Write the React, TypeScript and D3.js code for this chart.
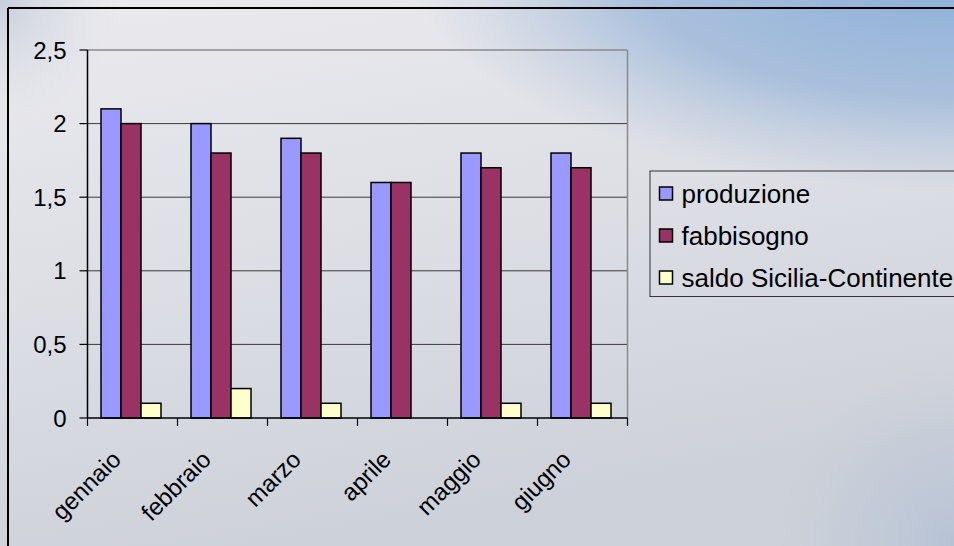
import React from "react";
import * as d3 from "d3";

const categories = ["gennaio", "febbraio", "marzo", "aprile", "maggio", "giugno"];
const seriesNames = ["produzione", "fabbisogno", "saldo Sicilia-Continente"];
const produzione = [2.1, 2.0, 1.9, 1.6, 1.8, 1.8];
const fabbisogno = [2.0, 1.8, 1.8, 1.6, 1.7, 1.7];
const saldo = [0.1, 0.2, 0.1, 0, 0.1, 0.1];
const seriesColors = ["#9999FF", "#993366", "#FFFFCC"];
const yTicks = [0, 0.5, 1, 1.5, 2, 2.5];
const yTickLabels = ["0", "0,5", "1", "1,5", "2", "2,5"];

const W = 954;
const H = 546;
const FONT = "'Liberation Sans', Arial, sans-serif";

export default function App() {
  const plot = { left: 87.5, right: 627.5, top: 50, bottom: 418 };
  const seriesValues = [produzione, fabbisogno, saldo];

  const x0 = d3.scaleBand<string>().domain(categories).range([plot.left, plot.right]).paddingInner(0).paddingOuter(0);
  const x1 = d3
    .scaleBand<string>()
    .domain(seriesNames)
    .range([-1.5, x0.bandwidth() - 1.5])
    .paddingInner(0)
    .paddingOuter(0.75);
  const y = d3.scaleLinear().domain([0, 2.5]).range([plot.bottom, plot.top]);

  const tickXs = categories.map((c) => x0(c) as number).concat([plot.right]);

  const legend = { x: 650, y: 171, rowY: [193.5, 235.5, 277.5] };

  return (
    <svg
      width={W}
      height={H}
      style={{ position: "absolute", left: 0, top: 0, display: "block" }}
      fontFamily={FONT}
    >
      <defs>
        <linearGradient id="bgLin" x1="0" y1="0" x2="0.3" y2="1">
          <stop offset="0" stopColor="#ebeaee" />
          <stop offset="0.5" stopColor="#dddfe5" />
          <stop offset="1" stopColor="#cdd1d9" />
        </linearGradient>
        <radialGradient id="skyTR" cx="954" cy="-40" r="420" gradientUnits="userSpaceOnUse" gradientTransform="translate(954,-40) scale(1.3,0.55) translate(-954,40)">
          <stop offset="0" stopColor="#88acd8" stopOpacity="1" />
          <stop offset="0.6" stopColor="#96b4d8" stopOpacity="0.75" />
          <stop offset="1" stopColor="#a8bcd8" stopOpacity="0" />
        </radialGradient>
        <radialGradient id="skyBR" cx="954" cy="546" r="180" gradientUnits="userSpaceOnUse">
          <stop offset="0" stopColor="#a6b8d2" stopOpacity="0.6" />
          <stop offset="1" stopColor="#b8c4d6" stopOpacity="0" />
        </radialGradient>
        <radialGradient id="skyTL" cx="0" cy="0" r="120" gradientUnits="userSpaceOnUse">
          <stop offset="0" stopColor="#b8c4d4" stopOpacity="0.7" />
          <stop offset="1" stopColor="#d8dce4" stopOpacity="0" />
        </radialGradient>
      </defs>

      <rect x={0} y={0} width={W} height={H} fill="url(#bgLin)" />
      <rect x={0} y={0} width={W} height={H} fill="url(#skyTR)" />
      <rect x={0} y={0} width={W} height={H} fill="url(#skyBR)" />
      <rect x={0} y={0} width={W} height={H} fill="url(#skyTL)" />

      {/* chart frame */}
      <line x1={8} y1={8} x2={W} y2={8} stroke="#000" strokeWidth={2} />
      <line x1={8} y1={8} x2={8} y2={H} stroke="#000" strokeWidth={2} />

      {/* gridlines */}
      {yTicks.slice(1, -1).map((t) => (
        <line key={t} x1={plot.left} x2={plot.right} y1={y(t)} y2={y(t)} stroke="#3a3a3a" strokeWidth={1} />
      ))}
      {/* plot area border top/right */}
      <line x1={plot.left} x2={plot.right} y1={plot.top} y2={plot.top} stroke="#8a8a8a" strokeWidth={1.5} />
      <line x1={plot.right} x2={plot.right} y1={plot.top} y2={plot.bottom} stroke="#8a8a8a" strokeWidth={1.5} />

      {/* bars */}
      {categories.map((c, i) => (
        <g key={c} transform={`translate(${x0(c)},0)`}>
          {seriesNames.map((s, j) => {
            const v = seriesValues[j][i];
            if (v <= 0) return null;
            return (
              <rect
                key={s}
                x={x1(s) as number}
                y={y(v)}
                width={x1.bandwidth()}
                height={y(0) - y(v)}
                fill={seriesColors[j]}
                stroke="#000"
                strokeWidth={1.5}
              />
            );
          })}
        </g>
      ))}

      {/* y axis */}
      <line x1={plot.left} x2={plot.left} y1={plot.top} y2={plot.bottom} stroke="#000" strokeWidth={1.5} />
      {yTicks.map((t, i) => (
        <g key={t}>
          <line x1={plot.left - 8} x2={plot.left} y1={y(t)} y2={y(t)} stroke="#000" strokeWidth={1.2} />
          <text x={plot.left - 21} y={y(t)} textAnchor="end" dominantBaseline="central" fontSize={24} fill="#000">
            {yTickLabels[i]}
          </text>
        </g>
      ))}

      {/* x axis */}
      <line x1={plot.left} x2={plot.right} y1={plot.bottom} y2={plot.bottom} stroke="#000" strokeWidth={1.5} />
      {tickXs.map((tx, i) => (
        <line key={i} x1={tx} x2={tx} y1={plot.bottom} y2={plot.bottom + 8} stroke="#000" strokeWidth={1.2} />
      ))}
      {categories.map((c) => {
        const cx = (x0(c) as number) + x0.bandwidth() / 2;
        return (
          <text
            key={c}
            transform={`translate(${cx - 10},${plot.bottom + 43}) rotate(-45)`}
            textAnchor="end"
            fontSize={24}
            fill="#000"
          >
            {c}
          </text>
        );
      })}

      {/* legend */}
      <rect x={legend.x} y={legend.y} width={W - legend.x + 10} height={125.5} fill="none" stroke="#333" strokeWidth={1} />
      {seriesNames.map((s, j) => (
        <g key={s}>
          <rect
            x={659.5}
            y={legend.rowY[j] - 6.5}
            width={13}
            height={13}
            fill={seriesColors[j]}
            stroke="#000"
            strokeWidth={1.5}
          />
          <text x={681.5} y={legend.rowY[j]} dominantBaseline="central" fontSize={26} fill="#000">
            {s}
          </text>
        </g>
      ))}
    </svg>
  );
}
